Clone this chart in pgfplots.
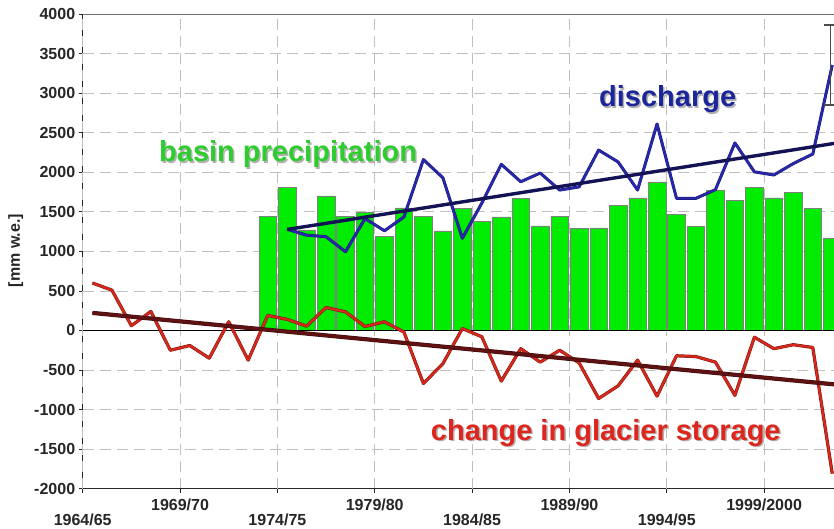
\documentclass[border=0pt]{standalone}
\usepackage{pgfplots}
\usepackage{pgfplotstable}
\pgfplotsset{compat=1.18}
\usepackage{fontspec}
\setmainfont{Liberation Sans}
\definecolor{pgreen}{RGB}{0,236,0}
\definecolor{tgreen}{RGB}{45,205,45}
\definecolor{qblue}{RGB}{40,40,175}
\definecolor{tblue}{RGB}{28,38,155}
\definecolor{gred}{RGB}{215,40,28}
\definecolor{tred}{RGB}{222,38,30}
\definecolor{trendred}{RGB}{95,18,18}
\definecolor{trendblue}{RGB}{18,18,85}

\pgfplotstableread{
k v
0 600
1 510
2 60
3 240
4 -250
5 -190
6 -350
7 110
8 -375
9 190
10 140
11 55
12 290
13 235
14 50
15 110
16 -20
17 -670
18 -420
19 25
20 -80
21 -640
22 -230
23 -400
24 -250
25 -410
26 -860
27 -700
28 -375
29 -830
30 -320
31 -330
32 -400
33 -820
34 -85
35 -230
36 -180
37 -215
38 -1810
}\glacier

\pgfplotstableread{
k v
10 1280
11 1205
12 1185
13 995
14 1415
15 1260
16 1435
17 2160
18 1930
19 1165
20 1610
21 2100
22 1880
23 1990
24 1775
25 1815
26 2280
27 2130
28 1775
29 2610
30 1670
31 1670
32 1780
33 2370
34 2005
35 1965
36 2110
37 2230
38 3355
}\discharge

\pgfplotstableread{
k v
9 1440
10 1810
11 1270
12 1700
13 1445
14 1490
15 1185
16 1550
17 1445
18 1258
19 1542
20 1380
21 1436
22 1668
23 1322
24 1445
25 1290
26 1297
27 1584
28 1676
29 1879
30 1466
31 1318
32 1773
33 1647
34 1808
35 1676
36 1744
37 1542
38 1163
}\precip

\begin{document}
\begin{tikzpicture}[x=1pt,y=1pt]
\path[use as bounding box] (0,0) rectangle (834,528);
\begin{axis}[
  at={(82.7pt,39.3pt)}, anchor=south west,
  scale only axis, width=751.3pt, height=474.7pt,
  xmin=-0.5, xmax=38.09, ymin=-2000, ymax=4000,
  axis x line*=bottom, axis y line*=left,
  axis line style={black!85, line width=1pt},
  ytick={-2000,-1500,...,4000},
  xtick={4.5,14.5,24.5,34.5},
  xticklabels={1969/70,1979/80,1989/90,1999/2000},
  extra x ticks={-0.5,9.5,19.5,29.5},
  extra x tick labels={1964/65,1974/75,1984/85,1994/95},
  extra x tick style={grid=major, xticklabel style={yshift=-15pt}},
  grid=major,
  major grid style={black!25, line width=0.8pt, dash pattern=on 11pt off 6pt},
  tick align=outside, major tick length=4pt,
  tick style={black!85, line width=0.8pt},
  ticklabel style={font=\fontsize{16}{18}\selectfont\bfseries, text=black!85},
  /pgf/number format/assume math mode=true,
  /pgf/number format/1000 sep={},
  xticklabel style={anchor=base, yshift=-17.3pt},
  ylabel={[mm w.e.]},
  every axis y label/.style={at={(axis description cs:-0.0892,0.5018)}, rotate=90, anchor=center, font=\fontsize{16}{18}\selectfont\bfseries, text=black!85},
  clip=true,
]
\addplot[ybar, bar width=0.9, fill=pgreen, draw=black!50, line width=0.6pt] table[x=k, y=v] {\precip};
\draw[black, line width=0.9pt] (axis cs:-0.5,0) -- (axis cs:38.09,0);
\addplot[gred!55!black, line width=3.2pt, line join=round] table[x=k, y=v] {\glacier};
\addplot[gred, line width=2.2pt, line join=round] table[x=k, y=v] {\glacier};
\addplot[trendred!70!black, line width=4.2pt] coordinates {(0,222) (38.09,-681)};
\addplot[trendred, line width=3pt] coordinates {(0,222) (38.09,-681)};
\addplot[qblue!60!black, line width=3pt, line join=round] table[x=k, y=v] {\discharge};
\addplot[qblue, line width=2.1pt, line join=round] table[x=k, y=v] {\discharge};
\addplot[trendblue, line width=3.4pt] coordinates {(10,1277) (38.09,2364)};
\addplot[draw=none, mark=none, error bars/.cd, y dir=both, y explicit,
  error bar style={black!70, line width=1.3pt},
  error mark=-,
  error mark options={rotate=90, black!70, line width=1.3pt, mark size=6pt}]
  coordinates {(37.9,3355) +- (0,505)};
\draw[black!55, line width=1.2pt] (rel axis cs:0,1) -- (rel axis cs:1,1);
\end{axis}
\tikzset{lab/.style={anchor=base west, inner sep=0, font=\fontsize{29}{32}\selectfont\bfseries}}
\node[lab, text=black!30] at (160.5,364.8) {basin precipitation};
\node[lab, text=tgreen] at (159,366.3) {basin precipitation};
\node[lab, text=black!30] at (600.5,419.8) {discharge};
\node[lab, text=tblue] at (599,421.3) {discharge};
\node[lab, text=black!30] at (432.2,86.5) {change in glacier storage};
\node[lab, text=tred] at (430.7,88) {change in glacier storage};
\end{tikzpicture}
\end{document}
